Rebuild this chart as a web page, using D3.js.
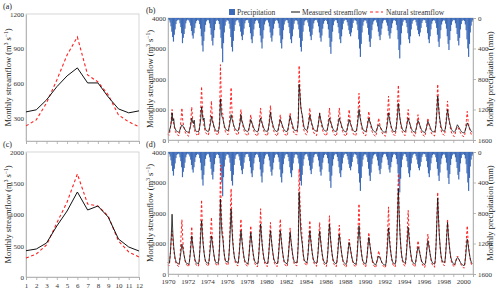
<!DOCTYPE html>
<html>
<head>
<meta charset="utf-8">
<script src="https://cdn.jsdelivr.net/npm/d3@7"></script>
<style>
  body { margin: 0; background: #fff; }
  text { font-family: "Liberation Serif", "Times New Roman", serif; }
  .axis text { font-size: 7px; fill: #333; }
  .axis path, .axis line { stroke: #aaa; stroke-width: 0.8; }
</style>
</head>
<body>
<script>
// monthly climatology, panels (a) and (c)
const months = [1, 2, 3, 4, 5, 6, 7, 8, 9, 10, 11, 12];
const measuredA = [352, 370, 456, 570, 664, 733, 603, 603, 482, 378, 344, 361];
const naturalA = [231, 283, 430, 629, 845, 1001, 672, 612, 500, 326, 266, 223];
const measuredC = [421, 448, 544, 816, 1056, 1360, 1072, 1136, 960, 608, 480, 416];
const naturalC = [304, 368, 512, 864, 1200, 1648, 1168, 1136, 976, 576, 400, 320];

// monthly series 1970-2000, one row per year
const years = d3.range(1970, 2001);
const measuredB = [
  [260,240,330,420,560,890,620,700,430,360,300,280],
  [270,250,290,360,430,500,470,420,380,330,290,270],
  [260,240,300,400,520,720,600,540,650,360,300,270],
  [280,260,330,480,700,1090,820,650,720,420,340,300],
  [290,270,320,430,560,780,640,560,460,380,320,290],
  [300,280,340,520,1350,900,760,700,560,450,380,330],
  [320,300,360,480,620,830,700,600,500,420,360,330],
  [310,290,330,430,560,830,620,560,470,390,330,300],
  [290,270,310,400,520,670,580,520,440,370,320,290],
  [280,260,310,420,560,720,600,540,450,380,320,290],
  [290,270,330,460,640,910,700,600,490,400,340,300],
  [290,270,320,420,540,670,580,520,440,370,320,290],
  [290,270,330,450,600,780,660,580,480,390,330,300],
  [310,300,380,600,1830,1500,1100,900,800,560,420,360],
  [340,310,360,480,620,810,680,580,490,400,340,310],
  [300,280,330,460,620,870,700,600,490,400,340,310],
  [300,280,320,430,560,720,620,540,460,380,320,290],
  [290,270,320,440,580,720,610,540,450,380,320,290],
  [280,260,310,410,520,670,580,510,430,360,310,280],
  [280,270,330,480,700,1000,780,640,510,410,340,300],
  [290,270,320,440,580,720,620,550,460,380,320,290],
  [270,250,290,370,440,500,460,420,370,320,280,260],
  [260,250,300,440,620,890,700,580,470,380,320,280],
  [280,270,340,520,800,1200,900,700,540,430,350,310],
  [290,270,320,440,580,720,620,540,450,370,310,280],
  [270,250,300,400,520,640,560,500,420,350,300,270],
  [260,240,290,380,480,610,540,480,410,340,290,260],
  [270,260,330,520,900,1440,1100,800,600,450,360,310],
  [300,280,340,500,720,1000,800,640,520,420,340,300],
  [270,250,280,340,420,500,460,410,360,310,270,250],
  [240,230,270,360,450,560,500,440,380,320,280,260]
];
const naturalB = [
  [200,150,220,400,650,1000,700,520,380,280,220,180],
  [170,130,200,380,700,1050,650,480,360,260,200,170],
  [160,120,220,420,720,1080,700,500,370,270,210,170],
  [180,140,260,600,1100,1750,1050,650,450,320,240,200],
  [190,150,240,480,850,1280,800,560,420,300,230,190],
  [200,160,300,700,2470,1400,900,850,560,380,280,220],
  [210,170,260,560,1100,1720,1000,680,480,340,260,210],
  [190,150,230,450,720,1000,700,520,400,290,220,180],
  [170,130,200,400,620,830,620,480,370,270,210,170],
  [160,120,210,440,720,1050,720,520,390,280,210,170],
  [170,130,230,480,800,1130,760,560,410,300,220,180],
  [160,120,200,400,620,830,620,480,370,270,210,170],
  [170,130,220,440,660,890,660,500,390,280,220,180],
  [190,160,300,800,2440,1700,1100,900,700,450,300,230],
  [200,160,250,480,760,1050,740,540,410,300,230,190],
  [180,140,230,460,700,890,700,520,400,290,220,180],
  [170,130,220,460,760,1050,720,520,390,280,210,170],
  [160,120,210,450,760,1050,720,520,390,280,210,170],
  [160,120,200,420,720,1000,700,500,380,270,210,170],
  [170,140,250,560,1000,1530,960,640,450,320,240,190],
  [170,130,220,440,700,940,680,500,380,280,210,170],
  [150,110,180,340,520,720,560,440,340,250,190,150],
  [150,120,220,500,920,1440,900,600,430,300,220,170],
  [170,140,280,640,1200,1800,1100,700,480,340,250,200],
  [180,140,230,450,720,1000,720,520,390,280,210,170],
  [160,120,200,400,620,830,620,480,370,270,200,160],
  [150,110,190,360,540,720,560,440,340,250,190,150],
  [150,130,250,640,1200,1830,1200,760,500,340,240,190],
  [180,150,260,560,900,1280,880,620,450,320,230,180],
  [150,110,170,280,380,440,400,340,280,220,170,140],
  [130,100,180,380,640,940,640,460,340,250,180,150]
];
const measuredD = [
  [380,340,420,700,1200,1960,1300,900,650,480,400,360],
  [350,320,380,550,760,980,850,700,560,440,380,340],
  [340,310,380,600,900,1250,1000,800,620,470,390,350],
  [360,330,420,800,1300,1750,1300,950,700,520,420,370],
  [370,340,410,650,950,1250,1050,850,640,490,400,360],
  [380,350,460,900,2460,1700,1300,1150,800,580,450,400],
  [420,380,480,850,1450,2130,1500,1050,760,560,450,400],
  [390,350,430,700,1050,1420,1150,900,680,510,420,380],
  [360,330,400,650,1000,1360,1100,880,660,500,410,370],
  [350,320,400,700,1150,1640,1250,940,700,520,420,370],
  [360,330,410,680,1050,1420,1150,900,680,510,420,370],
  [360,330,400,660,1050,1420,1150,900,680,500,410,370],
  [360,330,400,650,1000,1360,1100,880,660,500,410,370],
  [380,360,500,1000,2680,2000,1400,1150,950,650,480,420],
  [400,360,440,700,1050,1420,1150,900,680,520,430,380],
  [370,340,420,680,1050,1400,1150,900,680,510,420,370],
  [360,330,410,700,1150,1640,1250,950,700,520,420,370],
  [360,330,400,650,980,1300,1080,860,650,500,410,370],
  [340,310,380,580,820,1030,900,740,580,460,390,350],
  [340,320,410,720,1150,1580,1200,920,680,510,410,360],
  [350,320,400,620,920,1200,1000,820,630,490,400,360],
  [320,290,340,430,520,590,560,500,440,380,340,310],
  [300,280,360,650,1050,1510,1150,880,660,500,400,350],
  [340,320,460,950,1800,2800,1900,1300,900,620,470,400],
  [380,350,430,720,1100,1530,1200,920,690,520,420,370],
  [350,320,380,560,740,890,820,700,570,460,390,350],
  [330,300,370,580,850,1090,950,780,610,480,400,350],
  [340,320,450,950,1700,2490,1800,1250,880,620,470,400],
  [400,370,450,750,1200,1690,1300,980,730,550,440,390],
  [340,300,340,420,490,540,520,470,420,370,330,300],
  [290,270,330,560,860,1140,980,780,600,470,380,340]
];
const naturalD = [
  [300,260,360,700,1100,1420,1100,800,580,420,330,290],
  [280,240,340,700,1250,1780,1150,800,580,420,330,290],
  [270,230,330,700,1150,1550,1050,780,560,410,320,280],
  [280,250,380,900,1650,2430,1500,1000,700,480,360,310],
  [290,250,360,800,1350,1860,1250,880,630,450,340,300],
  [300,270,450,1100,3570,2100,1500,1300,850,560,400,330],
  [320,280,420,950,1900,2800,1750,1150,780,530,390,330],
  [300,260,370,750,1300,1800,1250,900,650,460,350,300],
  [280,240,340,680,1150,1580,1150,850,620,440,340,290],
  [270,230,350,780,1450,2140,1400,950,670,470,350,300],
  [280,240,350,720,1250,1690,1200,880,640,450,340,290],
  [280,240,340,740,1300,1800,1250,900,650,460,340,290],
  [270,230,330,680,1100,1510,1100,840,610,440,330,290],
  [290,260,460,1200,3450,2400,1700,1500,950,620,430,350],
  [310,270,380,760,1300,1750,1250,900,660,470,360,310],
  [290,250,360,720,1250,1690,1200,880,640,460,350,300],
  [280,240,350,780,1400,1910,1300,920,660,460,350,300],
  [270,230,340,700,1200,1600,1150,850,620,440,340,290],
  [260,220,310,580,900,1140,950,760,570,420,330,280],
  [260,230,360,820,1600,2300,1450,960,680,470,350,300],
  [270,230,330,640,1050,1360,1050,820,600,430,330,280],
  [240,200,270,420,600,760,640,540,450,360,290,250],
  [230,200,320,750,1450,2200,1400,920,650,450,330,280],
  [260,230,420,1100,2200,3290,2100,1350,880,580,410,340],
  [290,250,370,800,1450,2090,1400,940,670,470,350,300],
  [270,230,310,560,860,1090,920,740,580,430,330,280],
  [250,210,300,600,1000,1310,1050,800,600,440,330,280],
  [250,220,400,1000,1900,2680,1900,1250,850,570,400,330],
  [310,270,380,800,1350,1800,1350,960,700,490,370,310],
  [270,230,280,400,520,590,560,480,410,340,280,240],
  [220,190,290,650,1150,1580,1100,800,590,430,320,270]
];
const precip = [
  [25,30,60,110,180,250,310,220,150,80,40,25],
  [20,30,70,120,200,330,260,210,140,70,35,20],
  [25,35,60,100,170,230,270,200,130,70,40,25],
  [30,35,80,140,240,360,440,300,180,90,45,30],
  [25,30,70,130,220,300,360,260,160,80,40,25],
  [30,40,80,150,260,400,580,330,190,100,50,30],
  [30,35,75,140,250,380,440,300,170,90,45,30],
  [25,30,60,110,180,240,290,220,140,70,35,25],
  [25,30,65,120,200,280,330,240,150,75,40,25],
  [30,35,70,130,230,320,400,270,160,85,45,30],
  [25,30,60,110,190,260,310,230,140,75,40,25],
  [30,35,70,130,230,330,400,280,160,85,45,30],
  [25,30,65,120,200,280,330,240,150,75,40,25],
  [30,40,85,150,260,380,440,300,180,95,45,30],
  [25,30,60,110,180,240,290,220,140,70,35,25],
  [25,30,60,110,190,260,310,230,140,75,40,25],
  [30,40,80,150,260,380,470,310,180,95,45,30],
  [25,30,65,120,200,280,330,240,150,75,40,25],
  [20,25,55,100,160,210,240,190,130,65,35,20],
  [30,40,85,160,280,400,510,340,190,100,50,30],
  [30,35,70,130,220,310,380,270,160,85,45,30],
  [25,30,60,110,180,240,290,220,140,70,35,25],
  [25,30,60,100,170,230,270,200,130,70,35,25],
  [30,40,90,160,280,420,530,350,200,100,50,30],
  [25,30,65,120,200,280,330,240,150,75,40,25],
  [20,25,55,100,160,210,240,190,130,65,35,20],
  [25,30,65,120,200,280,330,240,150,75,40,25],
  [30,35,70,130,220,310,380,270,160,85,45,30],
  [30,35,75,140,240,340,420,290,170,90,45,30],
  [25,30,70,130,210,300,360,260,150,80,40,25],
  [30,40,85,160,280,400,510,340,190,100,50,30]
];

const blue = "#3d6bb8";
const red = "#ff2020";

const svg = d3.select("body").append("svg")
  .attr("width", 500)
  .attr("height", 291);

function flatten(rows) {
  const out = [];
  rows.forEach((row, i) => row.forEach((v, m) => out.push({ date: new Date(years[i], m, 1), v: v })));
  return out;
}

function yTitle(x, y, txt) {
  const t = svg.append("text")
    .attr("transform", `translate(${x},${y}) rotate(-90)`)
    .attr("text-anchor", "middle")
    .style("font-size", "8.5px")
    .attr("fill", "#222");
  t.append("tspan").text(txt);
  return t;
}

function flowTitle(x, y) {
  const t = yTitle(x, y, "Monthly streamflow (m");
  t.append("tspan").attr("baseline-shift", "super").style("font-size", "5.5px").text("3");
  t.append("tspan").text(" s");
  t.append("tspan").attr("baseline-shift", "super").style("font-size", "5.5px").text("\u22121");
  t.append("tspan").text(")");
}

function styleAxis(g) {
  g.attr("class", "axis");
  g.selectAll("path").attr("stroke", "#aaa");
  g.selectAll("line").attr("stroke", "#aaa");
}

// climatology panels
function drawClim(top, bottom, yDomain, yTicks, measured, natural, label, showLabels) {
  const x = d3.scaleLinear().domain([1, 12]).range([26, 139]);
  const y = d3.scaleLinear().domain(yDomain).range([bottom, top]);

  svg.append("rect")
    .attr("x", 26).attr("y", top)
    .attr("width", 113).attr("height", bottom - top)
    .attr("fill", "none").attr("stroke", "#ccc").attr("stroke-width", 0.8);

  svg.append("g")
    .attr("transform", `translate(26,0)`)
    .call(d3.axisLeft(y).tickValues(yTicks).tickSize(0).tickPadding(2).tickFormat(d3.format("d")))
    .call(styleAxis);

  svg.append("g")
    .attr("transform", `translate(0,${bottom})`)
    .call(d3.axisBottom(x).tickValues(months).tickSize(3).tickPadding(3)
      .tickFormat(showLabels ? d3.format("d") : () => ""))
    .call(styleAxis);

  const line = d3.line().x((d, i) => x(months[i])).y(d => y(d));

  svg.append("path").datum(natural)
    .attr("d", line).attr("fill", "none")
    .attr("stroke", red).attr("stroke-width", 1.1).attr("stroke-dasharray", "3,2.5");

  svg.append("path").datum(measured)
    .attr("d", line).attr("fill", "none")
    .attr("stroke", "#111").attr("stroke-width", 1);

  svg.append("text").attr("x", 3).attr("y", top - 5)
    .style("font-size", "8px").attr("fill", "#222").text(label);
  flowTitle(11, (top + bottom) / 2);
}

// time series panels
function drawSeries(top, bottom, measuredRows, naturalRows, rainRows, label, showLabels) {
  const x = d3.scaleTime()
    .domain([new Date(1970, 0, 1), new Date(2001, 0, 1)])
    .range([168, 473]);
  const y = d3.scaleLinear().domain([0, 4000]).range([bottom, top]);
  const yp = d3.scaleLinear().domain([0, 1600]).range([top, bottom]);

  svg.append("rect")
    .attr("x", 168).attr("y", top)
    .attr("width", 305).attr("height", bottom - top)
    .attr("fill", "none").attr("stroke", "#ccc").attr("stroke-width", 0.8);

  const rain = flatten(rainRows);
  svg.append("g").selectAll("rect")
    .data(rain)
    .join("rect")
    .attr("x", d => x(d.date))
    .attr("y", yp(0))
    .attr("width", d => x(d3.timeMonth.offset(d.date, 1)) - x(d.date) + 0.35)
    .attr("height", d => yp(d.v) - yp(0))
    .attr("fill", blue);

  const line = d3.line().x(d => x(d.date)).y(d => y(d.v));

  svg.append("path").datum(flatten(naturalRows))
    .attr("d", line).attr("fill", "none")
    .attr("stroke", red).attr("stroke-width", 1).attr("stroke-dasharray", "2.5,2");

  svg.append("path").datum(flatten(measuredRows))
    .attr("d", line).attr("fill", "none")
    .attr("stroke", "#111").attr("stroke-width", 0.8);

  svg.append("g")
    .attr("transform", `translate(168,0)`)
    .call(d3.axisLeft(y).tickValues([0, 1000, 2000, 3000, 4000]).tickSize(0).tickPadding(2)
      .tickFormat(d3.format("d")))
    .call(styleAxis);

  svg.append("g")
    .attr("transform", `translate(473,0)`)
    .call(d3.axisRight(yp).tickValues([0, 400, 800, 1200, 1600]).tickSize(3).tickPadding(2)
      .tickFormat(d3.format("d")))
    .call(styleAxis);

  const yearTicks = d3.range(1970, 2002).map(yr => new Date(yr, 0, 1));
  svg.append("g")
    .attr("transform", `translate(0,${bottom})`)
    .call(d3.axisBottom(x).tickValues(yearTicks).tickSize(3).tickPadding(2)
      .tickFormat(d => (showLabels && d.getFullYear() % 2 === 0 && d.getFullYear() <= 2000) ? d.getFullYear() : ""))
    .call(styleAxis);

  svg.append("text").attr("x", 146).attr("y", top - 5)
    .style("font-size", "8px").attr("fill", "#222").text(label);
  flowTitle(153, (top + bottom) / 2);
  yTitle(493, (top + bottom) / 2, "Monthly precipitation (mm)");
}

drawClim(14, 141, [100, 1200], [300, 600, 900, 1200], measuredA, naturalA, "(a)", false);
drawClim(152, 277, [0, 2000], [0, 500, 1000, 1500, 2000], measuredC, naturalC, "(c)", true);
drawSeries(18, 140, measuredB, naturalB, precip, "(b)", false);
drawSeries(152, 274, measuredD, naturalD, precip, "(d)", true);

// legend
const legend = svg.append("g").style("font-size", "7.5px");
legend.append("rect").attr("x", 229).attr("y", 9).attr("width", 6).attr("height", 6).attr("fill", blue);
legend.append("text").attr("x", 237).attr("y", 14.5).attr("fill", "#333").text("Precipitation");
legend.append("line").attr("x1", 291).attr("x2", 300).attr("y1", 12).attr("y2", 12)
  .attr("stroke", "#111").attr("stroke-width", 1);
legend.append("text").attr("x", 302).attr("y", 14.5).attr("fill", "#333").text("Measured streamflow");
legend.append("line").attr("x1", 370).attr("x2", 383).attr("y1", 12).attr("y2", 12)
  .attr("stroke", red).attr("stroke-width", 1).attr("stroke-dasharray", "3,2.5");
legend.append("text").attr("x", 386).attr("y", 14.5).attr("fill", "#333").text("Natural streamflow");
</script>
</body>
</html>
